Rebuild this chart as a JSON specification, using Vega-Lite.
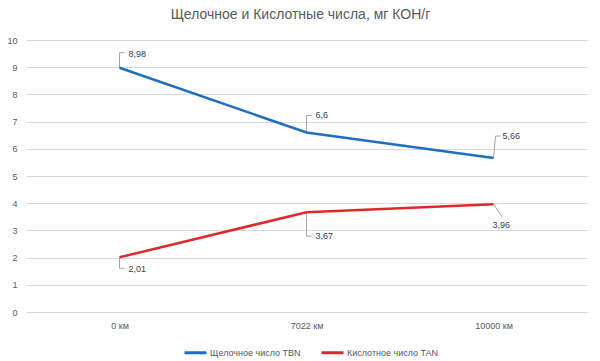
{
  "$schema": "https://vega.github.io/schema/vega-lite/v6.json",
  "width": 561,
  "height": 272,
  "autosize": {"type": "none"},
  "padding": {"left": 26, "top": 40, "right": 13, "bottom": 49},
  "background": "white",
  "title": {
    "text": "Щелочное и Кислотные числа, мг КОН/г",
    "fontSize": 14,
    "fontWeight": "normal",
    "font": "Liberation Sans",
    "color": "#595959",
    "anchor": "middle",
    "offset": 14,
    "dx": -6
  },
  "data": {
    "values": [
      {"km": "0 км", "s": "Щелочное число TBN", "v": 8.98},
      {"km": "7022 км", "s": "Щелочное число TBN", "v": 6.6},
      {"km": "10000 км", "s": "Щелочное число TBN", "v": 5.66},
      {"km": "0 км", "s": "Кислотное число TAN", "v": 2.01},
      {"km": "7022 км", "s": "Кислотное число TAN", "v": 3.67},
      {"km": "10000 км", "s": "Кислотное число TAN", "v": 3.96}
    ]
  },
  "encoding": {
    "x": {
      "field": "km", "type": "nominal", "sort": ["0 км", "7022 км", "10000 км"],
      "scale": {"type": "point", "padding": 0.5},
      "axis": {"title": null, "labelAngle": 0, "domain": false, "ticks": false, "labelPadding": 9, "labelFontSize": 9, "labelColor": "#595959", "labelFont": "Liberation Sans"}
    },
    "y": {
      "field": "v", "type": "quantitative",
      "scale": {"domain": [0, 10], "nice": false},
      "axis": {"title": null, "values": [0,1,2,3,4,5,6,7,8,9,10], "domain": false, "ticks": false, "labelPadding": 9, "gridColor": "#D9D9D9", "gridWidth": 1, "labelFontSize": 9, "labelColor": "#595959", "labelFont": "Liberation Sans"}
    }
  },
  "layer": [
    {
      "mark": {"type": "rule", "color": "#A6A6A6", "strokeWidth": 1,
        "y2Offset": {"expr": "test(/TBN/, datum.s) ? (datum.km=='0 км' ? -15 : datum.km=='7022 км' ? -17 : -22) : (datum.km=='0 км' ? 11 : datum.km=='7022 км' ? 24 : 13)"},
        "x2Offset": {"expr": "test(/TBN/, datum.s) ? (datum.km=='10000 км' ? 2 : 0) : (datum.km=='10000 км' ? 9 : 0)"}
      },
      "encoding": {"x2": {"field": "km"}, "y2": {"field": "v"}}
    },
    {
      "mark": {"type": "rule", "color": "#A6A6A6", "strokeWidth": 1,
        "yOffset": {"expr": "test(/TBN/, datum.s) ? (datum.km=='0 км' ? -15 : datum.km=='7022 км' ? -17 : -22) : (datum.km=='0 км' ? 11 : datum.km=='7022 км' ? 24 : 13)"},
        "y2Offset": {"expr": "test(/TBN/, datum.s) ? (datum.km=='0 км' ? -15 : datum.km=='7022 км' ? -17 : -22) : (datum.km=='0 км' ? 11 : datum.km=='7022 км' ? 24 : 13)"},
        "xOffset": {"expr": "test(/TBN/, datum.s) ? (datum.km=='10000 км' ? 2 : 0) : (datum.km=='10000 км' ? 9 : 0)"},
        "x2Offset": {"expr": "test(/TBN/, datum.s) ? (datum.km=='10000 км' ? 7 : 5) : (datum.km=='10000 км' ? 9 : 5)"}
      },
      "encoding": {"x2": {"field": "km"}, "y2": {"field": "v"}}
    },
    {
      "mark": {"type": "line", "strokeWidth": 2.5},
      "encoding": {
        "color": {
          "field": "s", "type": "nominal",
          "sort": ["Щелочное число TBN", "Кислотное число TAN"],
          "scale": {"domain": ["Щелочное число TBN", "Кислотное число TAN"], "range": ["#1F6FC0", "#E0292B"]},
          "legend": {
            "title": null, "orient": "none", "direction": "horizontal",
            "legendX": 157, "legendY": 300,
            "symbolType": "stroke", "symbolSize": 484, "symbolStrokeWidth": 3,
            "labelFontSize": 9, "labelColor": "#595959", "labelFont": "Liberation Sans",
            "columnPadding": 14, "labelOffset": 2
          }
        }
      }
    },
    {
      "mark": {"type": "text", "align": "left", "baseline": "middle", "fontSize": 9, "font": "Liberation Sans", "color": "#404040",
        "dx": {"expr": "(!test(/TBN/, datum.s) && datum.km=='10000 км') ? -1 : 9"},
        "dy": {"expr": "test(/TBN/, datum.s) ? (datum.km=='0 км' ? -14 : datum.km=='7022 км' ? -17 : -22) : (datum.km=='0 км' ? 12 : datum.km=='7022 км' ? 24 : 21)"}
      },
      "encoding": {"text": {"field": "v", "type": "quantitative", "format": ".2~f"}}
    }
  ],
  "config": {
    "view": {"stroke": null},
    "locale": {"number": {"decimal": ",", "thousands": " ", "grouping": [3], "currency": ["", ""]}}
  }
}
